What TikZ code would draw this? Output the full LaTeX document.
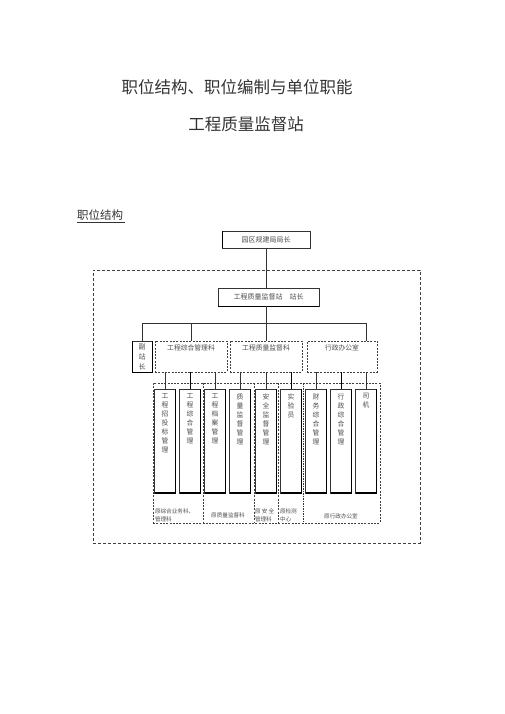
\documentclass[tikz,border=0pt]{standalone}
\usepackage{fontspec}
\newfontfamily\cjk{Noto Sans CJK SC}
\begin{document}
\begin{tikzpicture}[x=1pt,y=-1pt,
  every node/.style={inner sep=0pt, outer sep=0pt, text=black!80},
  ln/.style={line width=0.45pt, draw=black!80},
  thk/.style={line width=1pt, draw=black},
  boxa/.style={draw=black!80, line width=0.45pt, rectangle, inner sep=0pt},
  dbox/.style={draw=black!75, line width=0.55pt, dash pattern=on 2pt off 1.3pt, rectangle, inner sep=0pt},
  obox/.style={draw=black!75, line width=0.55pt, dash pattern=on 3pt off 2pt, rectangle, inner sep=0pt},
  cell/.style={boxa, minimum width=21pt, minimum height=104pt},
  vtxt/.style={font=\cjk\fontsize{6.8}{9}\selectfont, align=center, anchor=north, text=black!70},
  mtxt/.style={font=\cjk\fontsize{6.8}{8}\selectfont, anchor=north, text=black!70},
  sm/.style={font=\cjk\fontsize{5.6}{8}\selectfont, align=left, text=black!70}
]
\useasboundingbox (0,0) rectangle (505,714);

% titles
\node[font=\cjk\fontsize{16.5}{18}\selectfont] (t1) at (237,87) {职位结构、职位编制与单位职能};
\node[font=\cjk\fontsize{16.5}{18}\selectfont] (t2) at (246,124) {工程质量监督站};
\node[font=\cjk\fontsize{11.5}{13}\selectfont, anchor=west] (t3) at (77,215) {职位结构};
\draw[ln] ([yshift=-1.5pt]t3.south west) -- ([yshift=-1.5pt, xshift=2pt]t3.south east);

% outer dashed frame
\node[obox, minimum width=327pt, minimum height=273pt] (outer) at (256.5,406.5) {};

% top boxes
\node[boxa, minimum width=88pt, minimum height=17pt, font=\cjk\fontsize{7}{8}\selectfont, text=black!70] (chief) at (266,239.5) {园区规建局局长};
\draw[line width=0.9pt] (chief.south west) -- (chief.north west);
\node[boxa, minimum width=101pt, minimum height=18pt, font=\cjk\fontsize{7}{8}\selectfont, text=black!70] (station) at (268.5,297) {工程质量监督站\quad 站长};
\draw[line width=0.8pt] (station.south west) -- (station.south east);

\coordinate (busL) at (142,323);
\coordinate (busR) at (366,323);
\draw[ln] (chief.south) -- (chief.south |- station.north);
\draw[ln] (chief.south |- station.south) -- (chief.south |- busL);
\draw[ln] (busL) -- (busR);

% middle row
\node[boxa, minimum width=20pt, minimum height=31pt, font=\cjk\fontsize{7}{10}\selectfont, align=center, text=black!70] (dep) at (142,356.5) {副\\站\\长};
\draw[line width=1pt] (dep.north west) -- (dep.south west) -- (dep.south east) -- (dep.north east);
\node[dbox, minimum width=72pt, minimum height=31pt] (m1) at (191,356.5) {};
\node[dbox, minimum width=72pt, minimum height=31pt] (m2) at (266,356.5) {};
\node[dbox, minimum width=70pt, minimum height=31pt] (m3) at (342,356.5) {};
\node[mtxt] (m1t) at ([yshift=-4pt]m1.north) {工程综合管理科};
\node[mtxt] (m2t) at ([yshift=-4pt]m2.north) {工程质量监督科};
\node[mtxt] (m3t) at ([yshift=-4pt]m3.north) {行政办公室};

\draw[ln] (busL) -- (dep.north);
\draw[ln] (m1.north |- busL) -- (m1.north);
\draw[ln] (m2.north |- busL) -- (m2.north);
\draw[ln] (busR) -- (busR |- m3.north);

% inner dashed region
\node[dbox, minimum width=227pt, minimum height=140pt] (inner) at (266.5,453) {};
\draw[draw=black!75, line width=0.55pt, dash pattern=on 2pt off 1.3pt] (203,383) -- (203,523);
\draw[draw=black!75, line width=0.55pt, dash pattern=on 2pt off 1.3pt] (254,383) -- (254,523);
\draw[draw=black!75, line width=0.55pt, dash pattern=on 2pt off 1.3pt] (278,383) -- (278,523);
\draw[draw=black!80, line width=0.9pt, dash pattern=on 1.5pt off 1pt] (303,383) -- (303,523);

% cells
\foreach \i/\x in {1/165,2/190,3/215,4/240,5/266,6/291,7/316,8/341,9/366}{
  \node[cell] (c\i) at (\x,441) {};
  \draw[line width=1.1pt] (c\i.south west) -- (c\i.south east);
  \draw[line width=0.6pt] (c\i.south east) -- (c\i.north east);
}
\node[vtxt] at ([yshift=-4.5pt]c1.north) {工\\程\\招\\投\\标\\管\\理};
\node[vtxt] at ([yshift=-4.5pt]c2.north) {工\\程\\综\\合\\管\\理};
\node[vtxt] at ([yshift=-4.5pt]c3.north) {工\\程\\档\\案\\管\\理};
\node[vtxt] at ([yshift=-4.5pt]c4.north) {质\\量\\监\\督\\管\\理};
\node[vtxt] at ([yshift=-4.5pt]c5.north) {安\\全\\监\\督\\管\\理};
\node[vtxt] at ([yshift=-4.5pt]c6.north) {实\\验\\员};
\node[vtxt] at ([yshift=-4.5pt]c7.north) {财\\务\\综\\合\\管\\理};
\node[vtxt] at ([yshift=-4.5pt]c8.north) {行\\政\\综\\合\\管\\理};
\node[vtxt] at ([yshift=-4.5pt]c9.north) {司\\机};

% connectors to cells
\draw[ln] (c1.north |- m1.south) -- (c1.north);
\draw[thk] (c2.north |- m1.south) -- (c2.north);
\draw[ln] (c3.north |- m1.south) -- (c3.north);
\draw[ln] (c4.north |- m2.south) -- (c4.north);
\draw[ln] (c5.north |- m2.south) -- (c5.north);
\draw[thk] (c6.north |- m2.south) -- (c6.north);
\draw[ln] (c7.north |- m3.south) -- (c7.north);
\draw[thk] (c8.north |- m3.south) -- (c8.north);
\draw[ln] (c9.north |- m3.south) -- (c9.north);

% group labels
\node[sm, anchor=west] (g1) at (155,515) {原综合业务科、\\管理科};
\node[sm] (g2) at (228,515) {原质量监督科};
\node[sm, anchor=west] (g3) at (255,515) {原\ 安\ 全\\管理科};
\node[sm, anchor=west] (g4) at (280,515) {原检测\\中心};
\node[sm] (g5) at (341,516) {原行政办公室};
\end{tikzpicture}
\end{document}
